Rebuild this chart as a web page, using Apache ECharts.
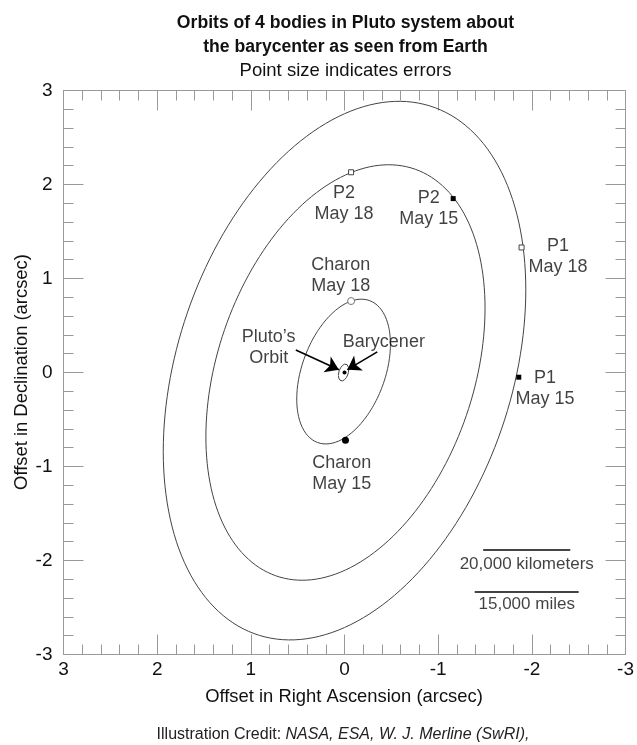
<!DOCTYPE html>
<html><head><meta charset="utf-8">
<script src="https://cdn.jsdelivr.net/npm/echarts@6/dist/echarts.min.js"></script>
<style>html,body{margin:0;padding:0;background:#fff}#c{width:637px;height:745px}</style>
</head><body><div id="c"></div>
<script>
// Orbit ellipses (data units, arcsec)
const orbitNames = ['P1', 'P2', 'Charon', 'Pluto'];
const orbitCenterX = [0.0, -0.01, 0.01, 0.01];
const orbitCenterY = [0.02, 0.0, 0.01, 0.0];
const orbitHalfWidth = [1.935, 1.49, 0.50, 0.055];
const orbitHalfHeight = [2.865, 2.21, 0.77, 0.09];
const orbitTilt = [-0.30, -0.31, -0.38, -0.35];

// Observed positions
const obsOpenX = [-1.89, -0.07];   // P1 May 18, P2 May 18
const obsOpenY = [1.33, 2.13];
const obsFilledX = [-1.86, -1.16]; // P1 May 15, P2 May 15
const obsFilledY = [-0.05, 1.85];
const charonOpenX = [-0.07], charonOpenY = [0.76];   // Charon May 18
const charonFilledX = [-0.01], charonFilledY = [-0.72]; // Charon May 15
const baryX = [0.0], baryY = [0.0];

// Annotation labels
const labelTexts = ['P2\nMay 18', 'P2\nMay 15', 'P1\nMay 18', 'Charon\nMay 18', 'P1\nMay 15', 'Charon\nMay 15', 'Pluto\u2019s\nOrbit', 'Barycener'];
const labelX = [0.005, -0.90, -2.28, 0.04, -2.14, 0.03, 0.81, -0.42];
const labelY = [1.80, 1.74, 1.23, 1.03, -0.17, -1.07, 0.27, 0.32];

// Arrows
const arrowFromX = [0.52, -0.35], arrowFromY = [0.24, 0.22];
const arrowToX = [0.06, -0.03], arrowToY = [0.03, 0.03];

// Scale bars
const barTexts = ['20,000 kilometers', '15,000 miles'];
const barX1 = [-1.48, -1.39], barX2 = [-2.41, -2.50], barY = [-1.89, -2.33];
const barTextY = [-2.04, -2.47];

// Axis ticks
const axisMin = -3, axisMax = 3, axisStep = 1;

function ellipse(i) {
  const pts = [];
  const s = Math.sqrt(1 - orbitTilt[i] * orbitTilt[i]);
  for (let k = 0; k <= 360; k += 2) {
    const t = k * Math.PI / 180;
    pts.push([orbitCenterX[i] + orbitHalfWidth[i] * Math.cos(t),
              orbitCenterY[i] + orbitHalfHeight[i] * (orbitTilt[i] * Math.cos(t) + s * Math.sin(t))]);
  }
  return pts;
}

const FONT = 'Liberation Sans, Arial, sans-serif';
const axisColor = '#999';
function mkAxis(extra) {
  return Object.assign({
    type: 'value', min: axisMin, max: axisMax, interval: axisStep,
    axisLine: { show: true, onZero: false, lineStyle: { color: axisColor, width: 1 } },
    axisTick: { show: true, inside: true, length: 20, lineStyle: { color: axisColor } },
    minorTick: { show: true, splitNumber: 5, length: 10, lineStyle: { color: axisColor } },
    splitLine: { show: false },
    axisLabel: { show: false }
  }, extra);
}

const chart = echarts.init(document.getElementById('c'), null, { renderer: 'canvas' });
const series = [];
orbitNames.forEach((n, i) => {
  series.push({ type: 'line', name: n, data: ellipse(i), showSymbol: false, symbol: 'none',
    lineStyle: { color: '#444', width: 1 }, z: 2, silent: true, animation: false });
});
series.push({ type: 'scatter', data: obsOpenX.map((x, i) => [x, obsOpenY[i]]), symbol: 'rect', symbolSize: 5,
  itemStyle: { color: '#fff', borderColor: '#444', borderWidth: 1, opacity: 1 }, z: 5 });
series.push({ type: 'scatter', data: obsFilledX.map((x, i) => [x, obsFilledY[i]]), symbol: 'rect', symbolSize: 5,
  itemStyle: { color: '#000', opacity: 1 }, z: 5 });
series.push({ type: 'scatter', data: charonOpenX.map((x, i) => [x, charonOpenY[i]]), symbol: 'circle', symbolSize: 7,
  itemStyle: { color: '#fff', borderColor: '#777', borderWidth: 1, opacity: 1 }, z: 5 });
series.push({ type: 'scatter', data: charonFilledX.map((x, i) => [x, charonFilledY[i]]), symbol: 'circle', symbolSize: 7,
  itemStyle: { color: '#000', opacity: 1 }, z: 5 });
series.push({ type: 'scatter', data: baryX.map((x, i) => [x, baryY[i]]), symbol: 'circle', symbolSize: 4,
  itemStyle: { color: '#000', opacity: 1 }, z: 5 });
series.push({ type: 'scatter', data: labelX.map((x, i) => ({ value: [x, labelY[i]], label: { formatter: labelTexts[i] } })),
  symbolSize: 0, z: 6,
  label: { show: true, position: 'inside', color: '#111', fontFamily: FONT, fontSize: 18, lineHeight: 21, align: 'center', verticalAlign: 'middle' } });
series.push({ type: 'lines', coordinateSystem: 'cartesian2d', z: 6,
  data: arrowFromX.map((x, i) => ({ coords: [[x, arrowFromY[i]], [arrowToX[i], arrowToY[i]]] })),
  symbol: ['none', 'arrow'], symbolSize: 13,
  lineStyle: { color: '#000', width: 1.6, opacity: 1, curveness: 0 } });
series.push({ type: 'lines', coordinateSystem: 'cartesian2d', z: 6,
  data: barX1.map((x, i) => ({ coords: [[x, barY[i]], [barX2[i], barY[i]]] })),
  symbol: ['none', 'none'],
  lineStyle: { color: '#444', width: 2, opacity: 1 } });
series.push({ type: 'scatter', data: barTexts.map((t, i) => ({ value: [(barX1[i] + barX2[i]) / 2, barTextY[i]], label: { formatter: t } })),
  symbolSize: 0, z: 6,
  label: { show: true, position: 'inside', color: '#111', fontFamily: FONT, fontSize: 17, align: 'center', verticalAlign: 'middle' } });

chart.setOption({
  animation: false,
  backgroundColor: '#fff',
  grid: { left: 63.5, right: 9.5, top: 90.5, bottom: 90.5, containLabel: false },
  xAxis: [
    mkAxis({ position: 'bottom', inverse: true,
      axisLabel: { show: true, color: '#111', fontFamily: FONT, fontSize: 19, margin: 6 } }),
    mkAxis({ position: 'top', inverse: true })
  ],
  yAxis: [
    mkAxis({ position: 'left',
      axisLabel: { show: true, color: '#111', fontFamily: FONT, fontSize: 19, margin: 11 } }),
    mkAxis({ position: 'right' })
  ],
  series: series,
  graphic: [
    { type: 'text', x: 345.5, y: 23, style: { text: 'Orbits of 4 bodies in Pluto system about', font: 'bold 17.6px ' + FONT, fill: '#111', align: 'center', verticalAlign: 'middle' } },
    { type: 'text', x: 345.5, y: 47, style: { text: 'the barycenter as seen from Earth', font: 'bold 17.6px ' + FONT, fill: '#111', align: 'center', verticalAlign: 'middle' } },
    { type: 'text', x: 345.5, y: 71, style: { text: 'Point size indicates errors', font: '18.5px ' + FONT, fill: '#111', align: 'center', verticalAlign: 'middle' } },
    { type: 'text', x: 344, y: 697, style: { text: 'Offset in Right Ascension (arcsec)', font: '18.4px ' + FONT, fill: '#111', align: 'center', verticalAlign: 'middle' } },
    { type: 'text', x: 22, y: 372, rotation: Math.PI / 2, style: { text: 'Offset in Declination (arcsec)', font: '18.4px ' + FONT, fill: '#111', align: 'center', verticalAlign: 'middle' } },
    { type: 'text', x: 343, y: 735, style: { text: '{n|Illustration Credit: }{i|NASA, ESA, W. J. Merline (SwRI),}', align: 'center', verticalAlign: 'middle',
        rich: { n: { fontFamily: FONT, fontSize: 16, fill: '#222', fontStyle: 'normal' }, i: { fontFamily: FONT, fontSize: 16, fill: '#222', fontStyle: 'italic' } } } }
  ]
});
</script></body></html>
